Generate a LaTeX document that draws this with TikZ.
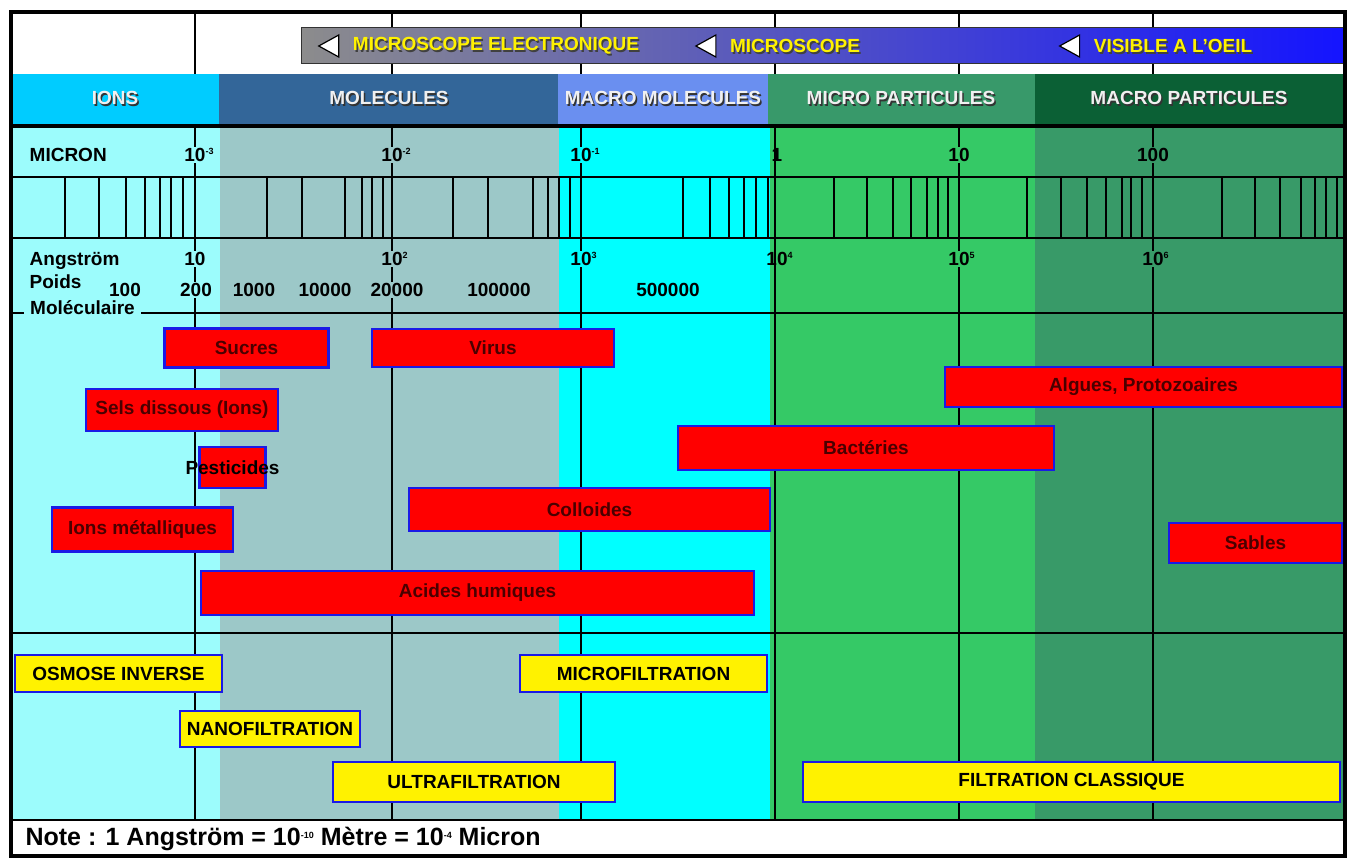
\documentclass[tikz,border=0pt]{standalone}
\usepackage{fontspec}
\setmainfont{Liberation Sans}
\usepackage{tikz}
\definecolor{cielions}{HTML}{00CCFF}
\definecolor{bleumol}{HTML}{336699}
\definecolor{bleumacro}{HTML}{6A8FF0}
\definecolor{vertmicro}{HTML}{38996A}
\definecolor{vertmacro}{HTML}{0B6035}
\definecolor{fondions}{HTML}{9CFCFC}
\definecolor{fondmol}{HTML}{9CC8C8}
\definecolor{fondmacro}{HTML}{00FFFF}
\definecolor{fondmicro}{HTML}{35C966}
\definecolor{fondpart}{HTML}{389A68}
\definecolor{bordbleu}{HTML}{1A1AE6}
\definecolor{texterouge}{HTML}{4A0000}
\newcommand\expo[1]{\raisebox{7pt}{\fontsize{9}{9}\selectfont#1}}
\newcommand\puiss[1]{\rlap{\expo{#1}}}

\begin{document}
\begin{tikzpicture}[x=1pt, y=-1pt]
  \tikzset{
    redbox/.style={fill=red, draw=bordbleu, line width=2.5pt, text=texterouge,
      font=\bfseries\fontsize{19}{20}\selectfont, inner sep=0pt},
    yellowbox/.style={fill=yellow, draw=bordbleu, line width=2.5pt,
      font=\bfseries\fontsize{19}{20}\selectfont, inner sep=0pt},
    entete/.style={font=\bfseries\fontsize{19}{20}\selectfont, inner sep=0pt},
    graduation/.style={font=\bfseries\fontsize{19}{20}\selectfont, inner sep=1.5pt},
    majeur/.style={line width=2pt},
    mineur/.style={line width=1.8pt},
  }
  \useasboundingbox (0,0) rectangle (1352,859);
  \fill[white] (0,0) rectangle (1352,859);
  % fonds des colonnes
  \fill[fondions] (12,125) rectangle (220,820);
  \fill[fondmol] (220,125) rectangle (559,820);
  \fill[fondmacro] (559,125) rectangle (770,820);
  \fill[fondmicro] (770,125) rectangle (1035,820);
  \fill[fondpart] (1035,125) rectangle (1344,820);
  % decades et graduations
  \foreach \d in {195,392,581,775,959,1153}
    \draw[majeur] (\d,12) -- (\d,820);
  \foreach \t in {65,99,126,145,160,171,183,267,302,345,362,372,383,
                  453,488,533,548,559,570,683,710,729,744,756,768,
                  834,867,893,911,927,938,948,1027,1061,1087,1106,1122,1131,1142,
                  1222,1255,1280,1301,1315,1326,1337}
    \draw[mineur] (\t,177) -- (\t,238);
  \draw[line width=2pt] (12,177) -- (1344,177) (12,238) -- (1344,238);
  \draw[line width=2.5pt] (12,313) -- (1344,313);
  \draw[line width=2.5pt] (12,633) -- (1344,633);
  \draw[line width=2.5pt] (12,820) -- (1344,820);
  % bandeau des familles
  \fill[cielions] (12,74) rectangle (219,125);
  \fill[bleumol] (219,74) rectangle (558,125);
  \fill[bleumacro] (558,74) rectangle (768,125);
  \fill[vertmicro] (768,74) rectangle (1035,125);
  \fill[vertmacro] (1035,74) rectangle (1344,125);
  \draw[line width=3.5pt] (12,126) -- (1344,126);
  \foreach \x/\nom/\txt in {115/ions/IONS, 389/mol/MOLECULES, 663/macromol/MACRO MOLECULES,
                            901/micropart/MICRO PARTICULES, 1189/macropart/MACRO PARTICULES} {
    \node[entete, text=black!80] at ([shift={(1.5,1.5)}]\x,98) {\txt};
    \node[entete, text=gray!12] (\nom) at (\x,98) {\txt};
  }
  % microscopes
  \shade[left color={rgb,255:red,140;green,140;blue,140}, right color={rgb,255:red,20;green,20;blue,255}]
    (301,28) rectangle (1344,64);
  \draw[gray!40!black, line width=1pt] (301,28) rectangle (1344,64);
  \foreach \x/\nom/\txt in {496/elec/MICROSCOPE ELECTRONIQUE, 795/micro/MICROSCOPE,
                            1173/oeil/VISIBLE A L'OEIL} {
    \node[entete, text=black!75] at ([shift={(1.5,1.5)}]\x,46) {\txt};
    \node[entete, text=yellow] (\nom) at (\x,46) {\txt};
    \draw[fill=white, line width=1.2pt] ([xshift=-34pt]\nom.west) -- ([xshift=-14pt,yshift=11pt]\nom.west)
      -- ([xshift=-14pt,yshift=-11pt]\nom.west) -- cycle;
  }
  % echelle micron
  \node[graduation, anchor=west] (micron) at (28,155) {MICRON};
  \node[graduation, fill=fondions] (mu3) at (195,155) {10\puiss{-3}};
  \node[graduation, fill=fondmol] (mu2) at (392,155) {10\puiss{-2}};
  \node[graduation, fill=fondmacro] (mu1) at (581,155) {10\puiss{-1}};
  \node[graduation] (mu0) at (777,155) {1};
  \node[graduation, fill=fondmicro] (mu10) at (959,155) {10};
  \node[graduation, fill=fondpart] (mu100) at (1153,155) {100};
  % echelle angstrom et poids moleculaire
  \node[graduation, anchor=west] (angstrom) at (28,261) {Angström};
  \node[graduation, fill=fondions] (a1) at (195,259) {10};
  \node[graduation, fill=fondmol] (a2) at (392,259) {10\puiss{2}};
  \node[graduation, fill=fondmacro] (a3) at (581,259) {10\puiss{3}};
  \node[graduation] (a4) at (777,259) {10\puiss{4}};
  \node[graduation, fill=fondmicro] (a5) at (959,259) {10\puiss{5}};
  \node[graduation, fill=fondpart] (a6) at (1153,259) {10\puiss{6}};
  \node[graduation, anchor=west] (poids) at (28,282) {Poids};
  \node[graduation, anchor=west, fill=fondions, inner xsep=6pt] (molec) at (24,308) {Moléculaire};
  \node[graduation] (p100) at (125,290) {100};
  \node[graduation, fill=fondions] (p200) at (196,290) {200};
  \node[graduation] (p1000) at (254,290) {1000};
  \node[graduation] (p10000) at (325,290) {10000};
  \node[graduation, fill=fondmol] (p20000) at (397,290) {20000};
  \node[graduation] (p100000) at (499,290) {100000};
  \node[graduation] (p500000) at (668,290) {500000};
  % substances
  \node[redbox, minimum width=164, minimum height=39] (sucres) at (246.5,348) {Sucres};
  \node[redbox, minimum width=242, minimum height=38] (virus) at (493,348) {Virus};
  \node[redbox, minimum width=397, minimum height=40] (algues) at (1143.5,387) {Algues, Protozoaires};
  \node[redbox, minimum width=192, minimum height=42] (sels) at (182,410) {Sels dissous (Ions)};
  \node[redbox, minimum width=376, minimum height=44] (bacteries) at (866,448) {Bactéries};
  \node[redbox, minimum width=66, minimum height=41] (pesticides) at (232.5,467.5) {};
  \node[font=\bfseries\fontsize{19}{20}\selectfont] (pesttxt) at (pesticides) {Pesticides};
  \node[redbox, minimum width=361, minimum height=43] (colloides) at (589.5,509.5) {Colloides};
  \node[redbox, minimum width=181, minimum height=44] (ionsmet) at (142.5,529.5) {Ions métalliques};
  \node[redbox, minimum width=173, minimum height=40] (sables) at (1255.5,543) {Sables};
  \node[redbox, minimum width=553, minimum height=44] (acides) at (477.5,593) {Acides humiques};
  % procedes de filtration
  \node[yellowbox, minimum width=207, minimum height=37] (osmose) at (118.5,673.5) {OSMOSE INVERSE};
  \node[yellowbox, minimum width=247, minimum height=37] (microf) at (643.5,673.5) {MICROFILTRATION};
  \node[yellowbox, minimum width=180, minimum height=36] (nanof) at (270,729) {NANOFILTRATION};
  \node[yellowbox, minimum width=282, minimum height=40] (ultraf) at (474,782) {ULTRAFILTRATION};
  \node[yellowbox, minimum width=537, minimum height=40] (classique) at (1071.5,782) {FILTRATION CLASSIQUE};
  % note
  \node[anchor=west, font=\bfseries\fontsize{25}{27}\selectfont] (note) at (22,839)
    {Note : 1 Angström = 10\expo{-10} Mètre = 10\expo{-4} Micron};
  \draw[line width=4pt] (11,12) rectangle (1345,856);
\end{tikzpicture}
\end{document}
